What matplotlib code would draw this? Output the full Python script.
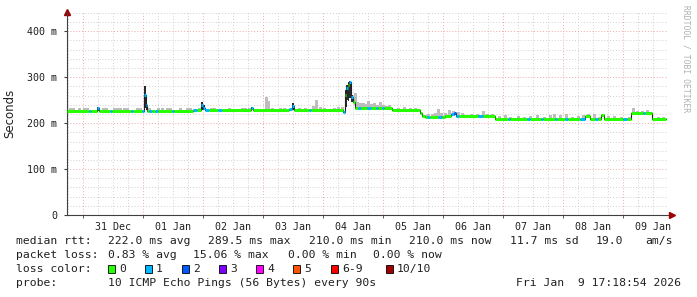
import matplotlib
matplotlib.use('Agg')
import matplotlib.pyplot as plt
from matplotlib.patches import Rectangle
import numpy as np

MONO = 'DejaVu Sans Mono'

# hours since 31 Dec 00:00
START_H = -6.4
END_H = 233.2

# median rtt as steps: segment start (h), median (ms), lost pings out of 10
med_t = [-6.4, 2.4, 3.2, 5.6, 6.4, 10.8, 11.6, 19.2, 20.0, 23.6, 24.4, 25.0, 25.6,
         26.4, 27.6, 28.8, 30.0, 35.6, 36.4, 44.0, 45.6, 47.2, 48.0, 48.8, 50.4,
         54.0, 55.6, 67.2, 68.0, 82.4, 83.6, 84.4, 90.4, 91.2, 104.0, 104.8, 105.2,
         105.8, 106.4, 107.2, 108.0, 108.8, 110.0, 111.2, 113.6, 115.2, 117.2, 118.0,
         119.6, 120.4, 123.6, 134.8, 135.6, 136.8, 137.6, 138.8, 142.0, 143.6, 144.8,
         147.2, 148.4, 149.2, 150.4, 158.0, 160.0, 164.8, 170.0, 170.8, 177.6, 178.8,
         183.2, 184.0, 188.8, 189.6, 192.8, 194.0, 198.8, 200.8, 202.8, 204.8, 206.0,
         207.2, 208.4, 216.0, 217.6, 219.2, 224.0, 224.8, 227.6]
med_ms = [227, 227, 227, 234, 227, 227, 227, 227, 227, 226, 262, 240, 227,
          227, 227, 227, 227, 226, 227, 228, 228, 240, 233, 228, 228,
          228, 228, 234, 228, 230, 237, 228, 228, 228, 225, 262, 277,
          284, 289, 256, 247, 233, 233, 233, 233, 233, 233, 233,
          233, 233, 228, 222, 215, 213, 213, 213, 213, 213, 216,
          220, 223, 216, 216, 216, 216, 210, 210, 210, 210, 210,
          210, 210, 210, 210, 210, 210, 210, 216, 210, 210, 210,
          217, 210, 210, 210, 221, 221, 221, 210]
med_loss = [0, 1, 0, 1, 0, 1, 0, 1, 0, 1, 1, 1, 0,
            1, 0, 1, 0, 1, 0, 1, 0, 1, 1, 1, 0,
            1, 0, 1, 0, 1, 1, 0, 1, 0, 1, 0, 1,
            0, 1, 1, 0, 0, 1, 0, 1, 0, 1, 0,
            1, 0, 0, 0, 0, 0, 1, 0, 1, 0, 0,
            1, 2, 1, 0, 1, 0, 0, 1, 0, 1, 0,
            1, 0, 1, 0, 1, 0, 1, 0, 0, 1, 0,
            0, 0, 1, 0, 0, 1, 0, 0]

# dense smoke at the spikes (h, low ms, high ms)
dark_t = [5.6, 24.4, 25.0, 47.2, 48.0, 67.2, 83.6, 104.8, 105.2, 105.8, 106.4, 107.2]
dark_lo = [227, 232, 229, 228, 228, 228, 228, 235, 250, 248, 255, 245]
dark_hi = [236, 281, 258, 247, 240, 236, 243, 272, 283, 290, 291, 262]

# light smoke (h, low ms, high ms)
smoke_t = [-5.6, -4.4, -2.0, 0.0, 1.2, 7.6, 8.8, 12.0, 13.2, 14.4, 16.0, 17.2, 21.2,
           22.4, 26.0, 29.6, 31.2, 33.2, 34.4, 38.4, 41.2, 42.4, 46.0, 50.8, 52.0,
           58.0, 63.2, 64.4, 66.0, 72.8, 73.6, 75.2, 78.4, 80.0, 86.0, 88.4, 91.6,
           92.8, 94.4, 96.0, 100.0, 101.6, 103.2, 108.4, 109.2, 110.4, 111.6, 112.4,
           113.6, 114.8, 116.0, 117.2, 118.4, 119.6, 120.8, 122.0, 125.6, 128.0,
           130.4, 132.4, 136.4, 137.6, 139.2, 140.4, 141.6, 142.8, 144.4, 146.0,
           147.6, 149.6, 151.2, 154.8, 157.2, 159.6, 161.2, 163.2, 166.0, 168.4,
           170.4, 173.6, 176.0, 178.4, 181.2, 184.0, 186.4, 188.0, 190.4, 192.8,
           195.2, 197.6, 199.6, 201.6, 204.0, 206.0, 209.6, 212.0, 214.8, 218.0,
           219.6, 221.2, 223.2, 225.2, 226.4, 229.6, 231.6]
smoke_lo = [227, 227, 227, 227, 227, 227, 227, 227, 227, 227, 227, 227, 227,
            227, 227, 227, 227, 227, 227, 227, 227, 227, 228, 228, 228,
            228, 228, 228, 228, 228, 228, 228, 228, 228, 228, 228, 228,
            228, 228, 228, 228, 228, 228, 240, 233, 233, 233, 233,
            233, 233, 233, 233, 233, 233, 233, 233, 228, 228,
            228, 228, 213, 213, 213, 213, 213, 213, 213, 216,
            216, 216, 216, 216, 216, 216, 216, 216, 210, 210,
            210, 210, 210, 210, 210, 210, 210, 210, 210, 210,
            210, 210, 210, 216, 210, 210, 210, 210, 210, 210,
            221, 221, 221, 221, 221, 210, 210]
smoke_hi = [233, 232, 233, 232, 234, 233, 232, 233, 233, 234, 233, 232, 233,
            234, 232, 233, 232, 233, 232, 233, 232, 233, 233, 234, 232,
            232, 233, 234, 232, 258, 248, 234, 233, 232, 234, 233, 238,
            251, 236, 234, 234, 236, 236, 266, 246, 243, 244, 242,
            248, 241, 244, 240, 246, 239, 238, 239, 232, 236,
            233, 234, 218, 219, 220, 222, 230, 222, 221, 229,
            226, 224, 222, 221, 220, 226, 221, 221, 215, 217,
            213, 216, 214, 215, 218, 214, 217, 220, 217, 219,
            214, 215, 217, 220, 219, 214, 215, 215, 214, 214,
            232, 226, 226, 228, 225, 214, 213]

day_labels = ['31 Dec', '01 Jan', '02 Jan', '03 Jan', '04 Jan',
              '05 Jan', '06 Jan', '07 Jan', '08 Jan', '09 Jan']

loss_names = ['0', '1', '2', '3', '4', '5', '6-9', '10/10']
loss_colors = ['#26ff00', '#00b8ff', '#0059ff', '#7e00ff', '#ff00ff',
               '#ff5500', '#ff0000', '#a10000']

W, H = 697, 297
fig = plt.figure(figsize=(W / 100, H / 100), dpi=100)
fig.patch.set_facecolor('white')
ax = fig.add_axes([67 / W, (H - 215) / H, (668 - 67) / W, (215 - 12) / H])
ax.set_xlim(START_H, 234.0)
ax.set_ylim(0, 442)

# grid
dot = (0, (1, 2))
six = [h for h in np.arange(-6, 234, 6) if h % 24 != 0]
ax.vlines(six, 0, 442, colors='#d0d0d0', lw=0.7, linestyles=dot, zorder=0)
ax.vlines(np.arange(0, 234, 24), 0, 442, colors='#f0a8a8', lw=0.7, linestyles=dot, zorder=0)
ax.hlines([v for v in range(20, 442, 20) if v % 100], START_H, 234, colors='#d0d0d0',
          lw=0.7, linestyles=dot, zorder=0)
ax.hlines([100, 200, 300, 400], START_H, 234, colors='#f0a8a8', lw=0.7, linestyles=dot, zorder=0)

# smoke
ax.bar(smoke_t, np.array(smoke_hi) - np.array(smoke_lo), bottom=smoke_lo, width=1.1,
       align='edge', color='#bdbdbd', lw=0, zorder=2)
ax.bar(dark_t, np.array(dark_hi) - np.array(dark_lo), bottom=dark_lo, width=0.6,
       align='edge', color='#2a2a2a', lw=0, zorder=3)

# median
t_end = med_t[1:] + [END_H]
ax.step(med_t + [END_H], med_ms + [med_ms[-1]], where='post', color='#202020', lw=0.8, zorder=4)
ax.hlines(med_ms, med_t, t_end, colors=[loss_colors[l] for l in med_loss], lw=2.2, zorder=5)

# axes
for s in ['top', 'right']:
    ax.spines[s].set_visible(False)
for s in ['left', 'bottom']:
    ax.spines[s].set_color('#404040')
    ax.spines[s].set_linewidth(0.8)
ax.plot([0], [1.0], marker='^', ms=4, color='#a00000', transform=ax.transAxes, clip_on=False)
ax.plot([1.007], [0], marker='>', ms=4, color='#a00000', transform=ax.transAxes, clip_on=False)

ax.set_yticks([0, 100, 200, 300, 400], ['0', '100 m', '200 m', '300 m', '400 m'])
ax.set_xticks(np.arange(12, 234, 24), day_labels)
ax.set_xticks(np.arange(0, 234, 24), minor=True)
ax.tick_params(axis='x', which='major', length=0, pad=5, labelsize=7.2, labelcolor='#202020')
ax.tick_params(axis='x', which='minor', length=2, color='#404040')
ax.tick_params(axis='y', length=2, pad=5, labelsize=7.2, labelcolor='#202020', color='#404040')
for lab in ax.get_xticklabels() + ax.get_yticklabels():
    lab.set_family(MONO)

fig.text(10 / W, 1 - 113 / H, 'Seconds', rotation=90, ha='center', va='center',
         fontsize=8.5, color='#202020')
fig.text(686 / W, 1 - 5 / H, 'RRDTOOL / TOBI OETIKER', rotation=270, ha='center', va='top',
         fontsize=5.8, family=MONO, color='#b0b0b0')


def row(y, items):
    for x, s in items:
        fig.text(x / W, 1 - y / H, s, ha='left', va='center', fontsize=8.2,
                 family=MONO, color='#202020')


row(241, [(16, 'median rtt:'), (108, '222.0 ms avg'), (208, '289.5 ms max'),
          (309, '210.0 ms min'), (409, '210.0 ms now'), (510, '11.7 ms sd'),
          (596, '19.0'), (645, 'am/s')])
row(255, [(16, 'packet loss:'), (108, '0.83 % avg'), (193, '15.06 % max'),
          (288, '0.00 % min'), (373, '0.00 % now')])
row(269, [(16, 'loss color:')])
row(283, [(16, 'probe:'), (108, '10 ICMP Echo Pings (56 Bytes) every 90s'),
          (516, 'Fri Jan  9 17:18:54 2026')])

box_x = [108, 145, 182, 219, 256, 293, 331, 386]
for bx, name, c in zip(box_x, loss_names, loss_colors):
    fig.add_artist(Rectangle((bx / W, 1 - 273 / H), 7 / W, 8 / H, transform=fig.transFigure,
                             facecolor=c, edgecolor='black', lw=0.6))
    fig.text((bx + 11) / W, 1 - 269 / H, name, ha='left', va='center', fontsize=8.2,
             family=MONO, color='#202020')

fig.savefig('out.png', dpi=100)
